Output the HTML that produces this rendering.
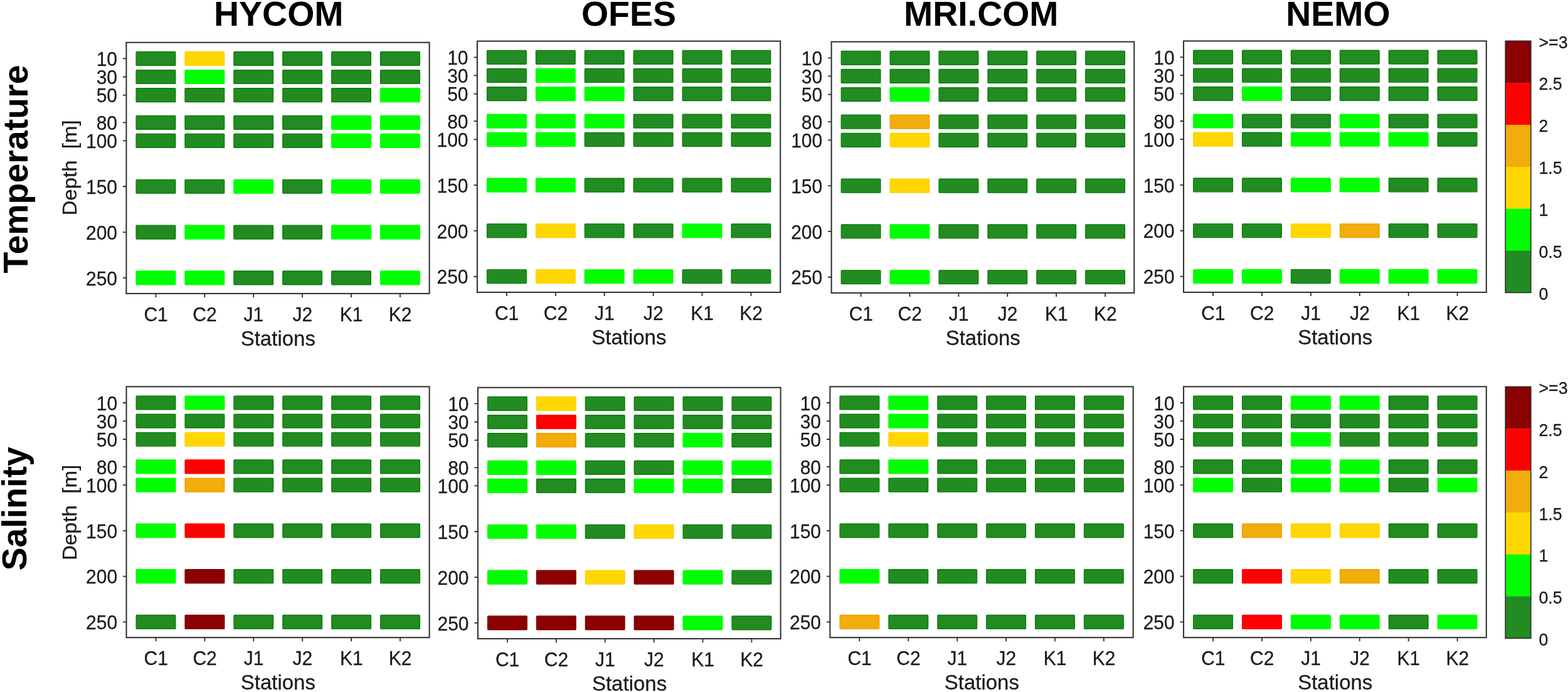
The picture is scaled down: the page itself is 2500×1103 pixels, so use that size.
<!DOCTYPE html>
<html lang="en"><head><meta charset="utf-8"><title>Model skill: Temperature and Salinity</title>
<style>html,body{margin:0;padding:0;background:#fff}body{width:2500px;height:1103px;overflow:hidden}svg{display:block}text{font-family:"Liberation Sans",Arial,Helvetica,sans-serif;fill:#1a1a1a}.t{font-size:30px}.l{font-size:33px}.b{font-size:55.5px;font-weight:bold;fill:#000}.c{font-size:26.8px}.t,.l,.c{stroke:#1a1a1a;stroke-width:0.25px}rect[class]{stroke-width:1.4px}.kd{fill:#228B22;stroke:#0A7D0A}.kl{fill:#00FF00;stroke:#00FF00}.ky{fill:#FFD700;stroke:#FFD000}.ko{fill:#F0AD0B;stroke:#F0A000}.kr{fill:#FF0000;stroke:#FF0000}.km{fill:#8B0000;stroke:#800000}</style></head><body>
<svg width="2500" height="1103" viewBox="0 0 2500 1103">
<rect x="0" y="0" width="2500" height="1103" fill="#fff"/>
<g id="p1">
<rect class="kd" x="217.1" y="82.5" width="62.6" height="21.8" rx="0.9"/>
<rect class="ky" x="295" y="82.5" width="62.6" height="21.8" rx="0.9"/>
<rect class="kd" x="372.9" y="82.5" width="62.6" height="21.8" rx="0.9"/>
<rect class="kd" x="450.8" y="82.5" width="62.6" height="21.8" rx="0.9"/>
<rect class="kd" x="528.7" y="82.5" width="62.6" height="21.8" rx="0.9"/>
<rect class="kd" x="606.6" y="82.5" width="62.6" height="21.8" rx="0.9"/>
<rect class="kd" x="217.1" y="111.62" width="62.6" height="21.8" rx="0.9"/>
<rect class="kl" x="295" y="111.62" width="62.6" height="21.8" rx="0.9"/>
<rect class="kd" x="372.9" y="111.62" width="62.6" height="21.8" rx="0.9"/>
<rect class="kd" x="450.8" y="111.62" width="62.6" height="21.8" rx="0.9"/>
<rect class="kd" x="528.7" y="111.62" width="62.6" height="21.8" rx="0.9"/>
<rect class="kd" x="606.6" y="111.62" width="62.6" height="21.8" rx="0.9"/>
<rect class="kd" x="217.1" y="140.74" width="62.6" height="21.8" rx="0.9"/>
<rect class="kd" x="295" y="140.74" width="62.6" height="21.8" rx="0.9"/>
<rect class="kd" x="372.9" y="140.74" width="62.6" height="21.8" rx="0.9"/>
<rect class="kd" x="450.8" y="140.74" width="62.6" height="21.8" rx="0.9"/>
<rect class="kd" x="528.7" y="140.74" width="62.6" height="21.8" rx="0.9"/>
<rect class="kl" x="606.6" y="140.74" width="62.6" height="21.8" rx="0.9"/>
<rect class="kd" x="217.1" y="184.42" width="62.6" height="21.8" rx="0.9"/>
<rect class="kd" x="295" y="184.42" width="62.6" height="21.8" rx="0.9"/>
<rect class="kd" x="372.9" y="184.42" width="62.6" height="21.8" rx="0.9"/>
<rect class="kd" x="450.8" y="184.42" width="62.6" height="21.8" rx="0.9"/>
<rect class="kl" x="528.7" y="184.42" width="62.6" height="21.8" rx="0.9"/>
<rect class="kl" x="606.6" y="184.42" width="62.6" height="21.8" rx="0.9"/>
<rect class="kd" x="217.1" y="213.54" width="62.6" height="21.8" rx="0.9"/>
<rect class="kd" x="295" y="213.54" width="62.6" height="21.8" rx="0.9"/>
<rect class="kd" x="372.9" y="213.54" width="62.6" height="21.8" rx="0.9"/>
<rect class="kd" x="450.8" y="213.54" width="62.6" height="21.8" rx="0.9"/>
<rect class="kl" x="528.7" y="213.54" width="62.6" height="21.8" rx="0.9"/>
<rect class="kl" x="606.6" y="213.54" width="62.6" height="21.8" rx="0.9"/>
<rect class="kd" x="217.1" y="286.34" width="62.6" height="21.8" rx="0.9"/>
<rect class="kd" x="295" y="286.34" width="62.6" height="21.8" rx="0.9"/>
<rect class="kl" x="372.9" y="286.34" width="62.6" height="21.8" rx="0.9"/>
<rect class="kd" x="450.8" y="286.34" width="62.6" height="21.8" rx="0.9"/>
<rect class="kl" x="528.7" y="286.34" width="62.6" height="21.8" rx="0.9"/>
<rect class="kl" x="606.6" y="286.34" width="62.6" height="21.8" rx="0.9"/>
<rect class="kd" x="217.1" y="359.14" width="62.6" height="21.8" rx="0.9"/>
<rect class="kl" x="295" y="359.14" width="62.6" height="21.8" rx="0.9"/>
<rect class="kd" x="372.9" y="359.14" width="62.6" height="21.8" rx="0.9"/>
<rect class="kd" x="450.8" y="359.14" width="62.6" height="21.8" rx="0.9"/>
<rect class="kl" x="528.7" y="359.14" width="62.6" height="21.8" rx="0.9"/>
<rect class="kl" x="606.6" y="359.14" width="62.6" height="21.8" rx="0.9"/>
<rect class="kl" x="217.1" y="431.94" width="62.6" height="21.8" rx="0.9"/>
<rect class="kl" x="295" y="431.94" width="62.6" height="21.8" rx="0.9"/>
<rect class="kd" x="372.9" y="431.94" width="62.6" height="21.8" rx="0.9"/>
<rect class="kd" x="450.8" y="431.94" width="62.6" height="21.8" rx="0.9"/>
<rect class="kd" x="528.7" y="431.94" width="62.6" height="21.8" rx="0.9"/>
<rect class="kl" x="606.6" y="431.94" width="62.6" height="21.8" rx="0.9"/>
<path d="M201.4 93.4h-5.5M201.4 122.52h-5.5M201.4 151.64h-5.5M201.4 195.32h-5.5M201.4 224.44h-5.5M201.4 297.24h-5.5M201.4 370.04h-5.5M201.4 442.84h-5.5M248.4 467.9v6M326.3 467.9v6M404.2 467.9v6M482.1 467.9v6M560 467.9v6M637.9 467.9v6" stroke="#2b2b2b" stroke-width="1.8" fill="none"/>
<rect x="201.4" y="67.7" width="483.2" height="400.2" fill="none" stroke="#2b2b2b" stroke-width="2"/>
<text class="t" transform="translate(187 105.1) scale(1 1.03)" text-anchor="end">10</text>
<text class="t" transform="translate(187 134.22) scale(1 1.03)" text-anchor="end">30</text>
<text class="t" transform="translate(187 163.34) scale(1 1.03)" text-anchor="end">50</text>
<text class="t" transform="translate(187 207.02) scale(1 1.03)" text-anchor="end">80</text>
<text class="t" transform="translate(187 236.14) scale(1 1.03)" text-anchor="end">100</text>
<text class="t" transform="translate(187 308.94) scale(1 1.03)" text-anchor="end">150</text>
<text class="t" transform="translate(187 381.74) scale(1 1.03)" text-anchor="end">200</text>
<text class="t" transform="translate(187 454.54) scale(1 1.03)" text-anchor="end">250</text>
<text class="t" transform="translate(248.6 511.5) scale(1 1.03)" text-anchor="middle">C1</text>
<text class="t" transform="translate(326.5 511.5) scale(1 1.03)" text-anchor="middle">C2</text>
<text class="t" transform="translate(404.4 511.5) scale(1 1.03)" text-anchor="middle">J1</text>
<text class="t" transform="translate(482.3 511.5) scale(1 1.03)" text-anchor="middle">J2</text>
<text class="t" transform="translate(560.2 511.5) scale(1 1.03)" text-anchor="middle">K1</text>
<text class="t" transform="translate(638.1 511.5) scale(1 1.03)" text-anchor="middle">K2</text>
<text class="l" transform="translate(443.3 550.5) scale(1 1.03)" text-anchor="middle">Stations</text>
</g>
<g id="p2">
<rect class="kd" x="776.6" y="80.4" width="62.6" height="21.8" rx="0.9"/>
<rect class="kd" x="854.5" y="80.4" width="62.6" height="21.8" rx="0.9"/>
<rect class="kd" x="932.4" y="80.4" width="62.6" height="21.8" rx="0.9"/>
<rect class="kd" x="1010.3" y="80.4" width="62.6" height="21.8" rx="0.9"/>
<rect class="kd" x="1088.2" y="80.4" width="62.6" height="21.8" rx="0.9"/>
<rect class="kd" x="1166.1" y="80.4" width="62.6" height="21.8" rx="0.9"/>
<rect class="kd" x="776.6" y="109.52" width="62.6" height="21.8" rx="0.9"/>
<rect class="kl" x="854.5" y="109.52" width="62.6" height="21.8" rx="0.9"/>
<rect class="kd" x="932.4" y="109.52" width="62.6" height="21.8" rx="0.9"/>
<rect class="kd" x="1010.3" y="109.52" width="62.6" height="21.8" rx="0.9"/>
<rect class="kd" x="1088.2" y="109.52" width="62.6" height="21.8" rx="0.9"/>
<rect class="kd" x="1166.1" y="109.52" width="62.6" height="21.8" rx="0.9"/>
<rect class="kd" x="776.6" y="138.64" width="62.6" height="21.8" rx="0.9"/>
<rect class="kl" x="854.5" y="138.64" width="62.6" height="21.8" rx="0.9"/>
<rect class="kl" x="932.4" y="138.64" width="62.6" height="21.8" rx="0.9"/>
<rect class="kd" x="1010.3" y="138.64" width="62.6" height="21.8" rx="0.9"/>
<rect class="kd" x="1088.2" y="138.64" width="62.6" height="21.8" rx="0.9"/>
<rect class="kd" x="1166.1" y="138.64" width="62.6" height="21.8" rx="0.9"/>
<rect class="kl" x="776.6" y="182.32" width="62.6" height="21.8" rx="0.9"/>
<rect class="kl" x="854.5" y="182.32" width="62.6" height="21.8" rx="0.9"/>
<rect class="kl" x="932.4" y="182.32" width="62.6" height="21.8" rx="0.9"/>
<rect class="kd" x="1010.3" y="182.32" width="62.6" height="21.8" rx="0.9"/>
<rect class="kd" x="1088.2" y="182.32" width="62.6" height="21.8" rx="0.9"/>
<rect class="kd" x="1166.1" y="182.32" width="62.6" height="21.8" rx="0.9"/>
<rect class="kl" x="776.6" y="211.44" width="62.6" height="21.8" rx="0.9"/>
<rect class="kl" x="854.5" y="211.44" width="62.6" height="21.8" rx="0.9"/>
<rect class="kd" x="932.4" y="211.44" width="62.6" height="21.8" rx="0.9"/>
<rect class="kd" x="1010.3" y="211.44" width="62.6" height="21.8" rx="0.9"/>
<rect class="kd" x="1088.2" y="211.44" width="62.6" height="21.8" rx="0.9"/>
<rect class="kd" x="1166.1" y="211.44" width="62.6" height="21.8" rx="0.9"/>
<rect class="kl" x="776.6" y="284.24" width="62.6" height="21.8" rx="0.9"/>
<rect class="kl" x="854.5" y="284.24" width="62.6" height="21.8" rx="0.9"/>
<rect class="kd" x="932.4" y="284.24" width="62.6" height="21.8" rx="0.9"/>
<rect class="kd" x="1010.3" y="284.24" width="62.6" height="21.8" rx="0.9"/>
<rect class="kd" x="1088.2" y="284.24" width="62.6" height="21.8" rx="0.9"/>
<rect class="kd" x="1166.1" y="284.24" width="62.6" height="21.8" rx="0.9"/>
<rect class="kd" x="776.6" y="357.04" width="62.6" height="21.8" rx="0.9"/>
<rect class="ky" x="854.5" y="357.04" width="62.6" height="21.8" rx="0.9"/>
<rect class="kd" x="932.4" y="357.04" width="62.6" height="21.8" rx="0.9"/>
<rect class="kd" x="1010.3" y="357.04" width="62.6" height="21.8" rx="0.9"/>
<rect class="kl" x="1088.2" y="357.04" width="62.6" height="21.8" rx="0.9"/>
<rect class="kd" x="1166.1" y="357.04" width="62.6" height="21.8" rx="0.9"/>
<rect class="kd" x="776.6" y="429.84" width="62.6" height="21.8" rx="0.9"/>
<rect class="ky" x="854.5" y="429.84" width="62.6" height="21.8" rx="0.9"/>
<rect class="kl" x="932.4" y="429.84" width="62.6" height="21.8" rx="0.9"/>
<rect class="kl" x="1010.3" y="429.84" width="62.6" height="21.8" rx="0.9"/>
<rect class="kd" x="1088.2" y="429.84" width="62.6" height="21.8" rx="0.9"/>
<rect class="kd" x="1166.1" y="429.84" width="62.6" height="21.8" rx="0.9"/>
<path d="M760.9 91.3h-5.5M760.9 120.42h-5.5M760.9 149.54h-5.5M760.9 193.22h-5.5M760.9 222.34h-5.5M760.9 295.14h-5.5M760.9 367.94h-5.5M760.9 440.74h-5.5M807.9 465.9v6M885.8 465.9v6M963.7 465.9v6M1041.6 465.9v6M1119.5 465.9v6M1197.4 465.9v6" stroke="#2b2b2b" stroke-width="1.8" fill="none"/>
<rect x="760.9" y="65.6" width="483.3" height="400.3" fill="none" stroke="#2b2b2b" stroke-width="2"/>
<text class="t" transform="translate(746.5 103) scale(1 1.03)" text-anchor="end">10</text>
<text class="t" transform="translate(746.5 132.12) scale(1 1.03)" text-anchor="end">30</text>
<text class="t" transform="translate(746.5 161.24) scale(1 1.03)" text-anchor="end">50</text>
<text class="t" transform="translate(746.5 204.92) scale(1 1.03)" text-anchor="end">80</text>
<text class="t" transform="translate(746.5 234.04) scale(1 1.03)" text-anchor="end">100</text>
<text class="t" transform="translate(746.5 306.84) scale(1 1.03)" text-anchor="end">150</text>
<text class="t" transform="translate(746.5 379.64) scale(1 1.03)" text-anchor="end">200</text>
<text class="t" transform="translate(746.5 452.44) scale(1 1.03)" text-anchor="end">250</text>
<text class="t" transform="translate(808.1 509.5) scale(1 1.03)" text-anchor="middle">C1</text>
<text class="t" transform="translate(886 509.5) scale(1 1.03)" text-anchor="middle">C2</text>
<text class="t" transform="translate(963.9 509.5) scale(1 1.03)" text-anchor="middle">J1</text>
<text class="t" transform="translate(1041.8 509.5) scale(1 1.03)" text-anchor="middle">J2</text>
<text class="t" transform="translate(1119.7 509.5) scale(1 1.03)" text-anchor="middle">K1</text>
<text class="t" transform="translate(1197.6 509.5) scale(1 1.03)" text-anchor="middle">K2</text>
<text class="l" transform="translate(1002.85 548.5) scale(1 1.03)" text-anchor="middle">Stations</text>
</g>
<g id="p3">
<rect class="kd" x="1341.3" y="81.4" width="62.6" height="21.8" rx="0.9"/>
<rect class="kd" x="1419.2" y="81.4" width="62.6" height="21.8" rx="0.9"/>
<rect class="kd" x="1497.1" y="81.4" width="62.6" height="21.8" rx="0.9"/>
<rect class="kd" x="1575" y="81.4" width="62.6" height="21.8" rx="0.9"/>
<rect class="kd" x="1652.9" y="81.4" width="62.6" height="21.8" rx="0.9"/>
<rect class="kd" x="1730.8" y="81.4" width="62.6" height="21.8" rx="0.9"/>
<rect class="kd" x="1341.3" y="110.52" width="62.6" height="21.8" rx="0.9"/>
<rect class="kd" x="1419.2" y="110.52" width="62.6" height="21.8" rx="0.9"/>
<rect class="kd" x="1497.1" y="110.52" width="62.6" height="21.8" rx="0.9"/>
<rect class="kd" x="1575" y="110.52" width="62.6" height="21.8" rx="0.9"/>
<rect class="kd" x="1652.9" y="110.52" width="62.6" height="21.8" rx="0.9"/>
<rect class="kd" x="1730.8" y="110.52" width="62.6" height="21.8" rx="0.9"/>
<rect class="kd" x="1341.3" y="139.64" width="62.6" height="21.8" rx="0.9"/>
<rect class="kl" x="1419.2" y="139.64" width="62.6" height="21.8" rx="0.9"/>
<rect class="kd" x="1497.1" y="139.64" width="62.6" height="21.8" rx="0.9"/>
<rect class="kd" x="1575" y="139.64" width="62.6" height="21.8" rx="0.9"/>
<rect class="kd" x="1652.9" y="139.64" width="62.6" height="21.8" rx="0.9"/>
<rect class="kd" x="1730.8" y="139.64" width="62.6" height="21.8" rx="0.9"/>
<rect class="kd" x="1341.3" y="183.32" width="62.6" height="21.8" rx="0.9"/>
<rect class="ko" x="1419.2" y="183.32" width="62.6" height="21.8" rx="0.9"/>
<rect class="kd" x="1497.1" y="183.32" width="62.6" height="21.8" rx="0.9"/>
<rect class="kd" x="1575" y="183.32" width="62.6" height="21.8" rx="0.9"/>
<rect class="kd" x="1652.9" y="183.32" width="62.6" height="21.8" rx="0.9"/>
<rect class="kd" x="1730.8" y="183.32" width="62.6" height="21.8" rx="0.9"/>
<rect class="kd" x="1341.3" y="212.44" width="62.6" height="21.8" rx="0.9"/>
<rect class="ky" x="1419.2" y="212.44" width="62.6" height="21.8" rx="0.9"/>
<rect class="kd" x="1497.1" y="212.44" width="62.6" height="21.8" rx="0.9"/>
<rect class="kd" x="1575" y="212.44" width="62.6" height="21.8" rx="0.9"/>
<rect class="kd" x="1652.9" y="212.44" width="62.6" height="21.8" rx="0.9"/>
<rect class="kd" x="1730.8" y="212.44" width="62.6" height="21.8" rx="0.9"/>
<rect class="kd" x="1341.3" y="285.24" width="62.6" height="21.8" rx="0.9"/>
<rect class="ky" x="1419.2" y="285.24" width="62.6" height="21.8" rx="0.9"/>
<rect class="kd" x="1497.1" y="285.24" width="62.6" height="21.8" rx="0.9"/>
<rect class="kd" x="1575" y="285.24" width="62.6" height="21.8" rx="0.9"/>
<rect class="kd" x="1652.9" y="285.24" width="62.6" height="21.8" rx="0.9"/>
<rect class="kd" x="1730.8" y="285.24" width="62.6" height="21.8" rx="0.9"/>
<rect class="kd" x="1341.3" y="358.04" width="62.6" height="21.8" rx="0.9"/>
<rect class="kl" x="1419.2" y="358.04" width="62.6" height="21.8" rx="0.9"/>
<rect class="kd" x="1497.1" y="358.04" width="62.6" height="21.8" rx="0.9"/>
<rect class="kd" x="1575" y="358.04" width="62.6" height="21.8" rx="0.9"/>
<rect class="kd" x="1652.9" y="358.04" width="62.6" height="21.8" rx="0.9"/>
<rect class="kd" x="1730.8" y="358.04" width="62.6" height="21.8" rx="0.9"/>
<rect class="kd" x="1341.3" y="430.84" width="62.6" height="21.8" rx="0.9"/>
<rect class="kl" x="1419.2" y="430.84" width="62.6" height="21.8" rx="0.9"/>
<rect class="kd" x="1497.1" y="430.84" width="62.6" height="21.8" rx="0.9"/>
<rect class="kd" x="1575" y="430.84" width="62.6" height="21.8" rx="0.9"/>
<rect class="kd" x="1652.9" y="430.84" width="62.6" height="21.8" rx="0.9"/>
<rect class="kd" x="1730.8" y="430.84" width="62.6" height="21.8" rx="0.9"/>
<path d="M1325.6 92.3h-5.5M1325.6 121.42h-5.5M1325.6 150.54h-5.5M1325.6 194.22h-5.5M1325.6 223.34h-5.5M1325.6 296.14h-5.5M1325.6 368.94h-5.5M1325.6 441.74h-5.5M1372.6 466.9v6M1450.5 466.9v6M1528.4 466.9v6M1606.3 466.9v6M1684.2 466.9v6M1762.1 466.9v6" stroke="#2b2b2b" stroke-width="1.8" fill="none"/>
<rect x="1325.6" y="66.6" width="482.7" height="400.3" fill="none" stroke="#2b2b2b" stroke-width="2"/>
<text class="t" transform="translate(1311.2 104) scale(1 1.03)" text-anchor="end">10</text>
<text class="t" transform="translate(1311.2 133.12) scale(1 1.03)" text-anchor="end">30</text>
<text class="t" transform="translate(1311.2 162.24) scale(1 1.03)" text-anchor="end">50</text>
<text class="t" transform="translate(1311.2 205.92) scale(1 1.03)" text-anchor="end">80</text>
<text class="t" transform="translate(1311.2 235.04) scale(1 1.03)" text-anchor="end">100</text>
<text class="t" transform="translate(1311.2 307.84) scale(1 1.03)" text-anchor="end">150</text>
<text class="t" transform="translate(1311.2 380.64) scale(1 1.03)" text-anchor="end">200</text>
<text class="t" transform="translate(1311.2 453.44) scale(1 1.03)" text-anchor="end">250</text>
<text class="t" transform="translate(1372.8 510.5) scale(1 1.03)" text-anchor="middle">C1</text>
<text class="t" transform="translate(1450.7 510.5) scale(1 1.03)" text-anchor="middle">C2</text>
<text class="t" transform="translate(1528.6 510.5) scale(1 1.03)" text-anchor="middle">J1</text>
<text class="t" transform="translate(1606.5 510.5) scale(1 1.03)" text-anchor="middle">J2</text>
<text class="t" transform="translate(1684.4 510.5) scale(1 1.03)" text-anchor="middle">K1</text>
<text class="t" transform="translate(1762.3 510.5) scale(1 1.03)" text-anchor="middle">K2</text>
<text class="l" transform="translate(1567.25 549.5) scale(1 1.03)" text-anchor="middle">Stations</text>
</g>
<g id="p4">
<rect class="kd" x="1902.8" y="80.2" width="62.6" height="21.8" rx="0.9"/>
<rect class="kd" x="1980.7" y="80.2" width="62.6" height="21.8" rx="0.9"/>
<rect class="kd" x="2058.6" y="80.2" width="62.6" height="21.8" rx="0.9"/>
<rect class="kd" x="2136.5" y="80.2" width="62.6" height="21.8" rx="0.9"/>
<rect class="kd" x="2214.4" y="80.2" width="62.6" height="21.8" rx="0.9"/>
<rect class="kd" x="2292.3" y="80.2" width="62.6" height="21.8" rx="0.9"/>
<rect class="kd" x="1902.8" y="109.32" width="62.6" height="21.8" rx="0.9"/>
<rect class="kd" x="1980.7" y="109.32" width="62.6" height="21.8" rx="0.9"/>
<rect class="kd" x="2058.6" y="109.32" width="62.6" height="21.8" rx="0.9"/>
<rect class="kd" x="2136.5" y="109.32" width="62.6" height="21.8" rx="0.9"/>
<rect class="kd" x="2214.4" y="109.32" width="62.6" height="21.8" rx="0.9"/>
<rect class="kd" x="2292.3" y="109.32" width="62.6" height="21.8" rx="0.9"/>
<rect class="kd" x="1902.8" y="138.44" width="62.6" height="21.8" rx="0.9"/>
<rect class="kl" x="1980.7" y="138.44" width="62.6" height="21.8" rx="0.9"/>
<rect class="kd" x="2058.6" y="138.44" width="62.6" height="21.8" rx="0.9"/>
<rect class="kd" x="2136.5" y="138.44" width="62.6" height="21.8" rx="0.9"/>
<rect class="kd" x="2214.4" y="138.44" width="62.6" height="21.8" rx="0.9"/>
<rect class="kd" x="2292.3" y="138.44" width="62.6" height="21.8" rx="0.9"/>
<rect class="kl" x="1902.8" y="182.12" width="62.6" height="21.8" rx="0.9"/>
<rect class="kd" x="1980.7" y="182.12" width="62.6" height="21.8" rx="0.9"/>
<rect class="kd" x="2058.6" y="182.12" width="62.6" height="21.8" rx="0.9"/>
<rect class="kl" x="2136.5" y="182.12" width="62.6" height="21.8" rx="0.9"/>
<rect class="kd" x="2214.4" y="182.12" width="62.6" height="21.8" rx="0.9"/>
<rect class="kd" x="2292.3" y="182.12" width="62.6" height="21.8" rx="0.9"/>
<rect class="ky" x="1902.8" y="211.24" width="62.6" height="21.8" rx="0.9"/>
<rect class="kd" x="1980.7" y="211.24" width="62.6" height="21.8" rx="0.9"/>
<rect class="kl" x="2058.6" y="211.24" width="62.6" height="21.8" rx="0.9"/>
<rect class="kl" x="2136.5" y="211.24" width="62.6" height="21.8" rx="0.9"/>
<rect class="kl" x="2214.4" y="211.24" width="62.6" height="21.8" rx="0.9"/>
<rect class="kd" x="2292.3" y="211.24" width="62.6" height="21.8" rx="0.9"/>
<rect class="kd" x="1902.8" y="284.04" width="62.6" height="21.8" rx="0.9"/>
<rect class="kd" x="1980.7" y="284.04" width="62.6" height="21.8" rx="0.9"/>
<rect class="kl" x="2058.6" y="284.04" width="62.6" height="21.8" rx="0.9"/>
<rect class="kl" x="2136.5" y="284.04" width="62.6" height="21.8" rx="0.9"/>
<rect class="kd" x="2214.4" y="284.04" width="62.6" height="21.8" rx="0.9"/>
<rect class="kd" x="2292.3" y="284.04" width="62.6" height="21.8" rx="0.9"/>
<rect class="kd" x="1902.8" y="356.84" width="62.6" height="21.8" rx="0.9"/>
<rect class="kd" x="1980.7" y="356.84" width="62.6" height="21.8" rx="0.9"/>
<rect class="ky" x="2058.6" y="356.84" width="62.6" height="21.8" rx="0.9"/>
<rect class="ko" x="2136.5" y="356.84" width="62.6" height="21.8" rx="0.9"/>
<rect class="kd" x="2214.4" y="356.84" width="62.6" height="21.8" rx="0.9"/>
<rect class="kd" x="2292.3" y="356.84" width="62.6" height="21.8" rx="0.9"/>
<rect class="kl" x="1902.8" y="429.64" width="62.6" height="21.8" rx="0.9"/>
<rect class="kl" x="1980.7" y="429.64" width="62.6" height="21.8" rx="0.9"/>
<rect class="kd" x="2058.6" y="429.64" width="62.6" height="21.8" rx="0.9"/>
<rect class="kl" x="2136.5" y="429.64" width="62.6" height="21.8" rx="0.9"/>
<rect class="kl" x="2214.4" y="429.64" width="62.6" height="21.8" rx="0.9"/>
<rect class="kl" x="2292.3" y="429.64" width="62.6" height="21.8" rx="0.9"/>
<path d="M1887.1 91.1h-5.5M1887.1 120.22h-5.5M1887.1 149.34h-5.5M1887.1 193.02h-5.5M1887.1 222.14h-5.5M1887.1 294.94h-5.5M1887.1 367.74h-5.5M1887.1 440.54h-5.5M1934.1 465.9v6M2012 465.9v6M2089.9 465.9v6M2167.8 465.9v6M2245.7 465.9v6M2323.6 465.9v6" stroke="#2b2b2b" stroke-width="1.8" fill="none"/>
<rect x="1887.1" y="65.4" width="482.7" height="400.5" fill="none" stroke="#2b2b2b" stroke-width="2"/>
<text class="t" transform="translate(1872.7 102.8) scale(1 1.03)" text-anchor="end">10</text>
<text class="t" transform="translate(1872.7 131.92) scale(1 1.03)" text-anchor="end">30</text>
<text class="t" transform="translate(1872.7 161.04) scale(1 1.03)" text-anchor="end">50</text>
<text class="t" transform="translate(1872.7 204.72) scale(1 1.03)" text-anchor="end">80</text>
<text class="t" transform="translate(1872.7 233.84) scale(1 1.03)" text-anchor="end">100</text>
<text class="t" transform="translate(1872.7 306.64) scale(1 1.03)" text-anchor="end">150</text>
<text class="t" transform="translate(1872.7 379.44) scale(1 1.03)" text-anchor="end">200</text>
<text class="t" transform="translate(1872.7 452.24) scale(1 1.03)" text-anchor="end">250</text>
<text class="t" transform="translate(1934.3 509.5) scale(1 1.03)" text-anchor="middle">C1</text>
<text class="t" transform="translate(2012.2 509.5) scale(1 1.03)" text-anchor="middle">C2</text>
<text class="t" transform="translate(2090.1 509.5) scale(1 1.03)" text-anchor="middle">J1</text>
<text class="t" transform="translate(2168 509.5) scale(1 1.03)" text-anchor="middle">J2</text>
<text class="t" transform="translate(2245.9 509.5) scale(1 1.03)" text-anchor="middle">K1</text>
<text class="t" transform="translate(2323.8 509.5) scale(1 1.03)" text-anchor="middle">K2</text>
<text class="l" transform="translate(2128.75 548.5) scale(1 1.03)" text-anchor="middle">Stations</text>
</g>
<g id="p5">
<rect class="kd" x="217.2" y="631.1" width="62.6" height="21.8" rx="0.9"/>
<rect class="kl" x="295.1" y="631.1" width="62.6" height="21.8" rx="0.9"/>
<rect class="kd" x="373" y="631.1" width="62.6" height="21.8" rx="0.9"/>
<rect class="kd" x="450.9" y="631.1" width="62.6" height="21.8" rx="0.9"/>
<rect class="kd" x="528.8" y="631.1" width="62.6" height="21.8" rx="0.9"/>
<rect class="kd" x="606.7" y="631.1" width="62.6" height="21.8" rx="0.9"/>
<rect class="kd" x="217.2" y="660.22" width="62.6" height="21.8" rx="0.9"/>
<rect class="kd" x="295.1" y="660.22" width="62.6" height="21.8" rx="0.9"/>
<rect class="kd" x="373" y="660.22" width="62.6" height="21.8" rx="0.9"/>
<rect class="kd" x="450.9" y="660.22" width="62.6" height="21.8" rx="0.9"/>
<rect class="kd" x="528.8" y="660.22" width="62.6" height="21.8" rx="0.9"/>
<rect class="kd" x="606.7" y="660.22" width="62.6" height="21.8" rx="0.9"/>
<rect class="kd" x="217.2" y="689.34" width="62.6" height="21.8" rx="0.9"/>
<rect class="ky" x="295.1" y="689.34" width="62.6" height="21.8" rx="0.9"/>
<rect class="kd" x="373" y="689.34" width="62.6" height="21.8" rx="0.9"/>
<rect class="kd" x="450.9" y="689.34" width="62.6" height="21.8" rx="0.9"/>
<rect class="kd" x="528.8" y="689.34" width="62.6" height="21.8" rx="0.9"/>
<rect class="kd" x="606.7" y="689.34" width="62.6" height="21.8" rx="0.9"/>
<rect class="kl" x="217.2" y="733.02" width="62.6" height="21.8" rx="0.9"/>
<rect class="kr" x="295.1" y="733.02" width="62.6" height="21.8" rx="0.9"/>
<rect class="kd" x="373" y="733.02" width="62.6" height="21.8" rx="0.9"/>
<rect class="kd" x="450.9" y="733.02" width="62.6" height="21.8" rx="0.9"/>
<rect class="kd" x="528.8" y="733.02" width="62.6" height="21.8" rx="0.9"/>
<rect class="kd" x="606.7" y="733.02" width="62.6" height="21.8" rx="0.9"/>
<rect class="kl" x="217.2" y="762.14" width="62.6" height="21.8" rx="0.9"/>
<rect class="ko" x="295.1" y="762.14" width="62.6" height="21.8" rx="0.9"/>
<rect class="kd" x="373" y="762.14" width="62.6" height="21.8" rx="0.9"/>
<rect class="kd" x="450.9" y="762.14" width="62.6" height="21.8" rx="0.9"/>
<rect class="kd" x="528.8" y="762.14" width="62.6" height="21.8" rx="0.9"/>
<rect class="kd" x="606.7" y="762.14" width="62.6" height="21.8" rx="0.9"/>
<rect class="kl" x="217.2" y="834.94" width="62.6" height="21.8" rx="0.9"/>
<rect class="kr" x="295.1" y="834.94" width="62.6" height="21.8" rx="0.9"/>
<rect class="kd" x="373" y="834.94" width="62.6" height="21.8" rx="0.9"/>
<rect class="kd" x="450.9" y="834.94" width="62.6" height="21.8" rx="0.9"/>
<rect class="kd" x="528.8" y="834.94" width="62.6" height="21.8" rx="0.9"/>
<rect class="kd" x="606.7" y="834.94" width="62.6" height="21.8" rx="0.9"/>
<rect class="kl" x="217.2" y="907.74" width="62.6" height="21.8" rx="0.9"/>
<rect class="km" x="295.1" y="907.74" width="62.6" height="21.8" rx="0.9"/>
<rect class="kd" x="373" y="907.74" width="62.6" height="21.8" rx="0.9"/>
<rect class="kd" x="450.9" y="907.74" width="62.6" height="21.8" rx="0.9"/>
<rect class="kd" x="528.8" y="907.74" width="62.6" height="21.8" rx="0.9"/>
<rect class="kd" x="606.7" y="907.74" width="62.6" height="21.8" rx="0.9"/>
<rect class="kd" x="217.2" y="980.54" width="62.6" height="21.8" rx="0.9"/>
<rect class="km" x="295.1" y="980.54" width="62.6" height="21.8" rx="0.9"/>
<rect class="kd" x="373" y="980.54" width="62.6" height="21.8" rx="0.9"/>
<rect class="kd" x="450.9" y="980.54" width="62.6" height="21.8" rx="0.9"/>
<rect class="kd" x="528.8" y="980.54" width="62.6" height="21.8" rx="0.9"/>
<rect class="kd" x="606.7" y="980.54" width="62.6" height="21.8" rx="0.9"/>
<path d="M201.5 642h-5.5M201.5 671.12h-5.5M201.5 700.24h-5.5M201.5 743.92h-5.5M201.5 773.04h-5.5M201.5 845.84h-5.5M201.5 918.64h-5.5M201.5 991.44h-5.5M248.5 1016.2v6M326.4 1016.2v6M404.3 1016.2v6M482.2 1016.2v6M560.1 1016.2v6M638 1016.2v6" stroke="#2b2b2b" stroke-width="1.8" fill="none"/>
<rect x="201.5" y="616.3" width="483.1" height="399.9" fill="none" stroke="#2b2b2b" stroke-width="2"/>
<text class="t" transform="translate(187.1 653.7) scale(1 1.03)" text-anchor="end">10</text>
<text class="t" transform="translate(187.1 682.82) scale(1 1.03)" text-anchor="end">30</text>
<text class="t" transform="translate(187.1 711.94) scale(1 1.03)" text-anchor="end">50</text>
<text class="t" transform="translate(187.1 755.62) scale(1 1.03)" text-anchor="end">80</text>
<text class="t" transform="translate(187.1 784.74) scale(1 1.03)" text-anchor="end">100</text>
<text class="t" transform="translate(187.1 857.54) scale(1 1.03)" text-anchor="end">150</text>
<text class="t" transform="translate(187.1 930.34) scale(1 1.03)" text-anchor="end">200</text>
<text class="t" transform="translate(187.1 1003.14) scale(1 1.03)" text-anchor="end">250</text>
<text class="t" transform="translate(248.7 1059.8) scale(1 1.03)" text-anchor="middle">C1</text>
<text class="t" transform="translate(326.6 1059.8) scale(1 1.03)" text-anchor="middle">C2</text>
<text class="t" transform="translate(404.5 1059.8) scale(1 1.03)" text-anchor="middle">J1</text>
<text class="t" transform="translate(482.4 1059.8) scale(1 1.03)" text-anchor="middle">J2</text>
<text class="t" transform="translate(560.3 1059.8) scale(1 1.03)" text-anchor="middle">K1</text>
<text class="t" transform="translate(638.2 1059.8) scale(1 1.03)" text-anchor="middle">K2</text>
<text class="l" transform="translate(443.35 1098.8) scale(1 1.03)" text-anchor="middle">Stations</text>
</g>
<g id="p6">
<rect class="kd" x="777.6" y="632.5" width="62.6" height="21.8" rx="0.9"/>
<rect class="ky" x="855.5" y="632.5" width="62.6" height="21.8" rx="0.9"/>
<rect class="kd" x="933.4" y="632.5" width="62.6" height="21.8" rx="0.9"/>
<rect class="kd" x="1011.3" y="632.5" width="62.6" height="21.8" rx="0.9"/>
<rect class="kd" x="1089.2" y="632.5" width="62.6" height="21.8" rx="0.9"/>
<rect class="kd" x="1167.1" y="632.5" width="62.6" height="21.8" rx="0.9"/>
<rect class="kd" x="777.6" y="661.62" width="62.6" height="21.8" rx="0.9"/>
<rect class="kr" x="855.5" y="661.62" width="62.6" height="21.8" rx="0.9"/>
<rect class="kd" x="933.4" y="661.62" width="62.6" height="21.8" rx="0.9"/>
<rect class="kd" x="1011.3" y="661.62" width="62.6" height="21.8" rx="0.9"/>
<rect class="kd" x="1089.2" y="661.62" width="62.6" height="21.8" rx="0.9"/>
<rect class="kd" x="1167.1" y="661.62" width="62.6" height="21.8" rx="0.9"/>
<rect class="kd" x="777.6" y="690.74" width="62.6" height="21.8" rx="0.9"/>
<rect class="ko" x="855.5" y="690.74" width="62.6" height="21.8" rx="0.9"/>
<rect class="kd" x="933.4" y="690.74" width="62.6" height="21.8" rx="0.9"/>
<rect class="kd" x="1011.3" y="690.74" width="62.6" height="21.8" rx="0.9"/>
<rect class="kl" x="1089.2" y="690.74" width="62.6" height="21.8" rx="0.9"/>
<rect class="kd" x="1167.1" y="690.74" width="62.6" height="21.8" rx="0.9"/>
<rect class="kl" x="777.6" y="734.42" width="62.6" height="21.8" rx="0.9"/>
<rect class="kl" x="855.5" y="734.42" width="62.6" height="21.8" rx="0.9"/>
<rect class="kd" x="933.4" y="734.42" width="62.6" height="21.8" rx="0.9"/>
<rect class="kd" x="1011.3" y="734.42" width="62.6" height="21.8" rx="0.9"/>
<rect class="kl" x="1089.2" y="734.42" width="62.6" height="21.8" rx="0.9"/>
<rect class="kl" x="1167.1" y="734.42" width="62.6" height="21.8" rx="0.9"/>
<rect class="kl" x="777.6" y="763.54" width="62.6" height="21.8" rx="0.9"/>
<rect class="kd" x="855.5" y="763.54" width="62.6" height="21.8" rx="0.9"/>
<rect class="kd" x="933.4" y="763.54" width="62.6" height="21.8" rx="0.9"/>
<rect class="kl" x="1011.3" y="763.54" width="62.6" height="21.8" rx="0.9"/>
<rect class="kl" x="1089.2" y="763.54" width="62.6" height="21.8" rx="0.9"/>
<rect class="kd" x="1167.1" y="763.54" width="62.6" height="21.8" rx="0.9"/>
<rect class="kl" x="777.6" y="836.34" width="62.6" height="21.8" rx="0.9"/>
<rect class="kl" x="855.5" y="836.34" width="62.6" height="21.8" rx="0.9"/>
<rect class="kd" x="933.4" y="836.34" width="62.6" height="21.8" rx="0.9"/>
<rect class="ky" x="1011.3" y="836.34" width="62.6" height="21.8" rx="0.9"/>
<rect class="kd" x="1089.2" y="836.34" width="62.6" height="21.8" rx="0.9"/>
<rect class="kd" x="1167.1" y="836.34" width="62.6" height="21.8" rx="0.9"/>
<rect class="kl" x="777.6" y="909.14" width="62.6" height="21.8" rx="0.9"/>
<rect class="km" x="855.5" y="909.14" width="62.6" height="21.8" rx="0.9"/>
<rect class="ky" x="933.4" y="909.14" width="62.6" height="21.8" rx="0.9"/>
<rect class="km" x="1011.3" y="909.14" width="62.6" height="21.8" rx="0.9"/>
<rect class="kl" x="1089.2" y="909.14" width="62.6" height="21.8" rx="0.9"/>
<rect class="kd" x="1167.1" y="909.14" width="62.6" height="21.8" rx="0.9"/>
<rect class="km" x="777.6" y="981.94" width="62.6" height="21.8" rx="0.9"/>
<rect class="km" x="855.5" y="981.94" width="62.6" height="21.8" rx="0.9"/>
<rect class="km" x="933.4" y="981.94" width="62.6" height="21.8" rx="0.9"/>
<rect class="km" x="1011.3" y="981.94" width="62.6" height="21.8" rx="0.9"/>
<rect class="kl" x="1089.2" y="981.94" width="62.6" height="21.8" rx="0.9"/>
<rect class="kd" x="1167.1" y="981.94" width="62.6" height="21.8" rx="0.9"/>
<path d="M761.9 643.4h-5.5M761.9 672.52h-5.5M761.9 701.64h-5.5M761.9 745.32h-5.5M761.9 774.44h-5.5M761.9 847.24h-5.5M761.9 920.04h-5.5M761.9 992.84h-5.5M808.9 1018.1v6M886.8 1018.1v6M964.7 1018.1v6M1042.6 1018.1v6M1120.5 1018.1v6M1198.4 1018.1v6" stroke="#2b2b2b" stroke-width="1.8" fill="none"/>
<rect x="761.9" y="617.7" width="482.7" height="400.4" fill="none" stroke="#2b2b2b" stroke-width="2"/>
<text class="t" transform="translate(747.5 655.1) scale(1 1.03)" text-anchor="end">10</text>
<text class="t" transform="translate(747.5 684.22) scale(1 1.03)" text-anchor="end">30</text>
<text class="t" transform="translate(747.5 713.34) scale(1 1.03)" text-anchor="end">50</text>
<text class="t" transform="translate(747.5 757.02) scale(1 1.03)" text-anchor="end">80</text>
<text class="t" transform="translate(747.5 786.14) scale(1 1.03)" text-anchor="end">100</text>
<text class="t" transform="translate(747.5 858.94) scale(1 1.03)" text-anchor="end">150</text>
<text class="t" transform="translate(747.5 931.74) scale(1 1.03)" text-anchor="end">200</text>
<text class="t" transform="translate(747.5 1004.54) scale(1 1.03)" text-anchor="end">250</text>
<text class="t" transform="translate(809.1 1061.7) scale(1 1.03)" text-anchor="middle">C1</text>
<text class="t" transform="translate(887 1061.7) scale(1 1.03)" text-anchor="middle">C2</text>
<text class="t" transform="translate(964.9 1061.7) scale(1 1.03)" text-anchor="middle">J1</text>
<text class="t" transform="translate(1042.8 1061.7) scale(1 1.03)" text-anchor="middle">J2</text>
<text class="t" transform="translate(1120.7 1061.7) scale(1 1.03)" text-anchor="middle">K1</text>
<text class="t" transform="translate(1198.6 1061.7) scale(1 1.03)" text-anchor="middle">K2</text>
<text class="l" transform="translate(1003.55 1100.7) scale(1 1.03)" text-anchor="middle">Stations</text>
</g>
<g id="p7">
<rect class="kd" x="1339.1" y="631.1" width="62.6" height="21.8" rx="0.9"/>
<rect class="kl" x="1417" y="631.1" width="62.6" height="21.8" rx="0.9"/>
<rect class="kd" x="1494.9" y="631.1" width="62.6" height="21.8" rx="0.9"/>
<rect class="kd" x="1572.8" y="631.1" width="62.6" height="21.8" rx="0.9"/>
<rect class="kd" x="1650.7" y="631.1" width="62.6" height="21.8" rx="0.9"/>
<rect class="kd" x="1728.6" y="631.1" width="62.6" height="21.8" rx="0.9"/>
<rect class="kd" x="1339.1" y="660.22" width="62.6" height="21.8" rx="0.9"/>
<rect class="kl" x="1417" y="660.22" width="62.6" height="21.8" rx="0.9"/>
<rect class="kd" x="1494.9" y="660.22" width="62.6" height="21.8" rx="0.9"/>
<rect class="kd" x="1572.8" y="660.22" width="62.6" height="21.8" rx="0.9"/>
<rect class="kd" x="1650.7" y="660.22" width="62.6" height="21.8" rx="0.9"/>
<rect class="kd" x="1728.6" y="660.22" width="62.6" height="21.8" rx="0.9"/>
<rect class="kd" x="1339.1" y="689.34" width="62.6" height="21.8" rx="0.9"/>
<rect class="ky" x="1417" y="689.34" width="62.6" height="21.8" rx="0.9"/>
<rect class="kd" x="1494.9" y="689.34" width="62.6" height="21.8" rx="0.9"/>
<rect class="kd" x="1572.8" y="689.34" width="62.6" height="21.8" rx="0.9"/>
<rect class="kd" x="1650.7" y="689.34" width="62.6" height="21.8" rx="0.9"/>
<rect class="kd" x="1728.6" y="689.34" width="62.6" height="21.8" rx="0.9"/>
<rect class="kd" x="1339.1" y="733.02" width="62.6" height="21.8" rx="0.9"/>
<rect class="kl" x="1417" y="733.02" width="62.6" height="21.8" rx="0.9"/>
<rect class="kd" x="1494.9" y="733.02" width="62.6" height="21.8" rx="0.9"/>
<rect class="kd" x="1572.8" y="733.02" width="62.6" height="21.8" rx="0.9"/>
<rect class="kd" x="1650.7" y="733.02" width="62.6" height="21.8" rx="0.9"/>
<rect class="kd" x="1728.6" y="733.02" width="62.6" height="21.8" rx="0.9"/>
<rect class="kd" x="1339.1" y="762.14" width="62.6" height="21.8" rx="0.9"/>
<rect class="kd" x="1417" y="762.14" width="62.6" height="21.8" rx="0.9"/>
<rect class="kd" x="1494.9" y="762.14" width="62.6" height="21.8" rx="0.9"/>
<rect class="kd" x="1572.8" y="762.14" width="62.6" height="21.8" rx="0.9"/>
<rect class="kd" x="1650.7" y="762.14" width="62.6" height="21.8" rx="0.9"/>
<rect class="kd" x="1728.6" y="762.14" width="62.6" height="21.8" rx="0.9"/>
<rect class="kd" x="1339.1" y="834.94" width="62.6" height="21.8" rx="0.9"/>
<rect class="kd" x="1417" y="834.94" width="62.6" height="21.8" rx="0.9"/>
<rect class="kd" x="1494.9" y="834.94" width="62.6" height="21.8" rx="0.9"/>
<rect class="kd" x="1572.8" y="834.94" width="62.6" height="21.8" rx="0.9"/>
<rect class="kd" x="1650.7" y="834.94" width="62.6" height="21.8" rx="0.9"/>
<rect class="kd" x="1728.6" y="834.94" width="62.6" height="21.8" rx="0.9"/>
<rect class="kl" x="1339.1" y="907.74" width="62.6" height="21.8" rx="0.9"/>
<rect class="kd" x="1417" y="907.74" width="62.6" height="21.8" rx="0.9"/>
<rect class="kd" x="1494.9" y="907.74" width="62.6" height="21.8" rx="0.9"/>
<rect class="kd" x="1572.8" y="907.74" width="62.6" height="21.8" rx="0.9"/>
<rect class="kd" x="1650.7" y="907.74" width="62.6" height="21.8" rx="0.9"/>
<rect class="kd" x="1728.6" y="907.74" width="62.6" height="21.8" rx="0.9"/>
<rect class="ko" x="1339.1" y="980.54" width="62.6" height="21.8" rx="0.9"/>
<rect class="kd" x="1417" y="980.54" width="62.6" height="21.8" rx="0.9"/>
<rect class="kd" x="1494.9" y="980.54" width="62.6" height="21.8" rx="0.9"/>
<rect class="kd" x="1572.8" y="980.54" width="62.6" height="21.8" rx="0.9"/>
<rect class="kd" x="1650.7" y="980.54" width="62.6" height="21.8" rx="0.9"/>
<rect class="kd" x="1728.6" y="980.54" width="62.6" height="21.8" rx="0.9"/>
<path d="M1323.4 642h-5.5M1323.4 671.12h-5.5M1323.4 700.24h-5.5M1323.4 743.92h-5.5M1323.4 773.04h-5.5M1323.4 845.84h-5.5M1323.4 918.64h-5.5M1323.4 991.44h-5.5M1370.4 1016.2v6M1448.3 1016.2v6M1526.2 1016.2v6M1604.1 1016.2v6M1682 1016.2v6M1759.9 1016.2v6" stroke="#2b2b2b" stroke-width="1.8" fill="none"/>
<rect x="1323.4" y="616.3" width="483.3" height="399.9" fill="none" stroke="#2b2b2b" stroke-width="2"/>
<text class="t" transform="translate(1309 653.7) scale(1 1.03)" text-anchor="end">10</text>
<text class="t" transform="translate(1309 682.82) scale(1 1.03)" text-anchor="end">30</text>
<text class="t" transform="translate(1309 711.94) scale(1 1.03)" text-anchor="end">50</text>
<text class="t" transform="translate(1309 755.62) scale(1 1.03)" text-anchor="end">80</text>
<text class="t" transform="translate(1309 784.74) scale(1 1.03)" text-anchor="end">100</text>
<text class="t" transform="translate(1309 857.54) scale(1 1.03)" text-anchor="end">150</text>
<text class="t" transform="translate(1309 930.34) scale(1 1.03)" text-anchor="end">200</text>
<text class="t" transform="translate(1309 1003.14) scale(1 1.03)" text-anchor="end">250</text>
<text class="t" transform="translate(1370.6 1059.8) scale(1 1.03)" text-anchor="middle">C1</text>
<text class="t" transform="translate(1448.5 1059.8) scale(1 1.03)" text-anchor="middle">C2</text>
<text class="t" transform="translate(1526.4 1059.8) scale(1 1.03)" text-anchor="middle">J1</text>
<text class="t" transform="translate(1604.3 1059.8) scale(1 1.03)" text-anchor="middle">J2</text>
<text class="t" transform="translate(1682.2 1059.8) scale(1 1.03)" text-anchor="middle">K1</text>
<text class="t" transform="translate(1760.1 1059.8) scale(1 1.03)" text-anchor="middle">K2</text>
<text class="l" transform="translate(1565.35 1098.8) scale(1 1.03)" text-anchor="middle">Stations</text>
</g>
<g id="p8">
<rect class="kd" x="1902.8" y="631.1" width="62.6" height="21.8" rx="0.9"/>
<rect class="kd" x="1980.7" y="631.1" width="62.6" height="21.8" rx="0.9"/>
<rect class="kl" x="2058.6" y="631.1" width="62.6" height="21.8" rx="0.9"/>
<rect class="kl" x="2136.5" y="631.1" width="62.6" height="21.8" rx="0.9"/>
<rect class="kd" x="2214.4" y="631.1" width="62.6" height="21.8" rx="0.9"/>
<rect class="kd" x="2292.3" y="631.1" width="62.6" height="21.8" rx="0.9"/>
<rect class="kd" x="1902.8" y="660.22" width="62.6" height="21.8" rx="0.9"/>
<rect class="kd" x="1980.7" y="660.22" width="62.6" height="21.8" rx="0.9"/>
<rect class="kd" x="2058.6" y="660.22" width="62.6" height="21.8" rx="0.9"/>
<rect class="kd" x="2136.5" y="660.22" width="62.6" height="21.8" rx="0.9"/>
<rect class="kd" x="2214.4" y="660.22" width="62.6" height="21.8" rx="0.9"/>
<rect class="kd" x="2292.3" y="660.22" width="62.6" height="21.8" rx="0.9"/>
<rect class="kd" x="1902.8" y="689.34" width="62.6" height="21.8" rx="0.9"/>
<rect class="kd" x="1980.7" y="689.34" width="62.6" height="21.8" rx="0.9"/>
<rect class="kl" x="2058.6" y="689.34" width="62.6" height="21.8" rx="0.9"/>
<rect class="kd" x="2136.5" y="689.34" width="62.6" height="21.8" rx="0.9"/>
<rect class="kd" x="2214.4" y="689.34" width="62.6" height="21.8" rx="0.9"/>
<rect class="kd" x="2292.3" y="689.34" width="62.6" height="21.8" rx="0.9"/>
<rect class="kd" x="1902.8" y="733.02" width="62.6" height="21.8" rx="0.9"/>
<rect class="kd" x="1980.7" y="733.02" width="62.6" height="21.8" rx="0.9"/>
<rect class="kl" x="2058.6" y="733.02" width="62.6" height="21.8" rx="0.9"/>
<rect class="kl" x="2136.5" y="733.02" width="62.6" height="21.8" rx="0.9"/>
<rect class="kd" x="2214.4" y="733.02" width="62.6" height="21.8" rx="0.9"/>
<rect class="kd" x="2292.3" y="733.02" width="62.6" height="21.8" rx="0.9"/>
<rect class="kl" x="1902.8" y="762.14" width="62.6" height="21.8" rx="0.9"/>
<rect class="kd" x="1980.7" y="762.14" width="62.6" height="21.8" rx="0.9"/>
<rect class="kl" x="2058.6" y="762.14" width="62.6" height="21.8" rx="0.9"/>
<rect class="kl" x="2136.5" y="762.14" width="62.6" height="21.8" rx="0.9"/>
<rect class="kd" x="2214.4" y="762.14" width="62.6" height="21.8" rx="0.9"/>
<rect class="kl" x="2292.3" y="762.14" width="62.6" height="21.8" rx="0.9"/>
<rect class="kd" x="1902.8" y="834.94" width="62.6" height="21.8" rx="0.9"/>
<rect class="ko" x="1980.7" y="834.94" width="62.6" height="21.8" rx="0.9"/>
<rect class="ky" x="2058.6" y="834.94" width="62.6" height="21.8" rx="0.9"/>
<rect class="ky" x="2136.5" y="834.94" width="62.6" height="21.8" rx="0.9"/>
<rect class="kd" x="2214.4" y="834.94" width="62.6" height="21.8" rx="0.9"/>
<rect class="kd" x="2292.3" y="834.94" width="62.6" height="21.8" rx="0.9"/>
<rect class="kd" x="1902.8" y="907.74" width="62.6" height="21.8" rx="0.9"/>
<rect class="kr" x="1980.7" y="907.74" width="62.6" height="21.8" rx="0.9"/>
<rect class="ky" x="2058.6" y="907.74" width="62.6" height="21.8" rx="0.9"/>
<rect class="ko" x="2136.5" y="907.74" width="62.6" height="21.8" rx="0.9"/>
<rect class="kd" x="2214.4" y="907.74" width="62.6" height="21.8" rx="0.9"/>
<rect class="kd" x="2292.3" y="907.74" width="62.6" height="21.8" rx="0.9"/>
<rect class="kd" x="1902.8" y="980.54" width="62.6" height="21.8" rx="0.9"/>
<rect class="kr" x="1980.7" y="980.54" width="62.6" height="21.8" rx="0.9"/>
<rect class="kl" x="2058.6" y="980.54" width="62.6" height="21.8" rx="0.9"/>
<rect class="kl" x="2136.5" y="980.54" width="62.6" height="21.8" rx="0.9"/>
<rect class="kd" x="2214.4" y="980.54" width="62.6" height="21.8" rx="0.9"/>
<rect class="kl" x="2292.3" y="980.54" width="62.6" height="21.8" rx="0.9"/>
<path d="M1887.1 642h-5.5M1887.1 671.12h-5.5M1887.1 700.24h-5.5M1887.1 743.92h-5.5M1887.1 773.04h-5.5M1887.1 845.84h-5.5M1887.1 918.64h-5.5M1887.1 991.44h-5.5M1934.1 1016.2v6M2012 1016.2v6M2089.9 1016.2v6M2167.8 1016.2v6M2245.7 1016.2v6M2323.6 1016.2v6" stroke="#2b2b2b" stroke-width="1.8" fill="none"/>
<rect x="1887.1" y="616.3" width="482.7" height="399.9" fill="none" stroke="#2b2b2b" stroke-width="2"/>
<text class="t" transform="translate(1872.7 653.7) scale(1 1.03)" text-anchor="end">10</text>
<text class="t" transform="translate(1872.7 682.82) scale(1 1.03)" text-anchor="end">30</text>
<text class="t" transform="translate(1872.7 711.94) scale(1 1.03)" text-anchor="end">50</text>
<text class="t" transform="translate(1872.7 755.62) scale(1 1.03)" text-anchor="end">80</text>
<text class="t" transform="translate(1872.7 784.74) scale(1 1.03)" text-anchor="end">100</text>
<text class="t" transform="translate(1872.7 857.54) scale(1 1.03)" text-anchor="end">150</text>
<text class="t" transform="translate(1872.7 930.34) scale(1 1.03)" text-anchor="end">200</text>
<text class="t" transform="translate(1872.7 1003.14) scale(1 1.03)" text-anchor="end">250</text>
<text class="t" transform="translate(1934.3 1059.8) scale(1 1.03)" text-anchor="middle">C1</text>
<text class="t" transform="translate(2012.2 1059.8) scale(1 1.03)" text-anchor="middle">C2</text>
<text class="t" transform="translate(2090.1 1059.8) scale(1 1.03)" text-anchor="middle">J1</text>
<text class="t" transform="translate(2168 1059.8) scale(1 1.03)" text-anchor="middle">J2</text>
<text class="t" transform="translate(2245.9 1059.8) scale(1 1.03)" text-anchor="middle">K1</text>
<text class="t" transform="translate(2323.8 1059.8) scale(1 1.03)" text-anchor="middle">K2</text>
<text class="l" transform="translate(2128.75 1098.8) scale(1 1.03)" text-anchor="middle">Stations</text>
</g>
<text class="b" transform="translate(444.3 40.9) scale(1 1.01)" text-anchor="middle">HYCOM</text>
<text class="b" transform="translate(1002.5 40.9) scale(1 1.01)" text-anchor="middle">OFES</text>
<text class="b" transform="translate(1564.3 40.9) scale(1 1.01)" text-anchor="middle">MRI.COM</text>
<text class="b" transform="translate(2133.5 40.9) scale(1 1.01)" text-anchor="middle">NEMO</text>
<text class="b" transform="translate(44.2 269.4) rotate(-90) scale(1 1.01)" text-anchor="middle">Temperature</text>
<text class="b" transform="translate(42.4 810.9) rotate(-90) scale(1 1.01)" text-anchor="middle">Salinity</text>
<text class="l" transform="translate(122 267.4) rotate(-90) scale(1 0.96)" text-anchor="middle" xml:space="preserve">Depth  [m]</text>
<text class="l" transform="translate(121.7 817) rotate(-90) scale(1 0.96)" text-anchor="middle" xml:space="preserve">Depth  [m]</text>
<g>
<rect x="2400.2" y="65.3" width="40.6" height="67.15" fill="#8B0000"/>
<rect x="2400.2" y="132.15" width="40.6" height="67.15" fill="#FF0000"/>
<rect x="2400.2" y="199" width="40.6" height="67.15" fill="#F0AD0B"/>
<rect x="2400.2" y="265.85" width="40.6" height="67.15" fill="#FFD700"/>
<rect x="2400.2" y="332.7" width="40.6" height="67.15" fill="#00FF00"/>
<rect x="2400.2" y="399.55" width="40.6" height="67.15" fill="#228B22"/>
<rect x="2400.2" y="65.3" width="40.6" height="401.1" fill="none" stroke="#2b2b2b" stroke-width="1.6"/>
<text class="c" transform="translate(2453.4 76.6) scale(1 1.04)">&gt;=3</text>
<text class="c" transform="translate(2453.4 143.45) scale(1 1.04)">2.5</text>
<text class="c" transform="translate(2453.4 210.3) scale(1 1.04)">2</text>
<text class="c" transform="translate(2453.4 277.15) scale(1 1.04)">1.5</text>
<text class="c" transform="translate(2453.4 344) scale(1 1.04)">1</text>
<text class="c" transform="translate(2453.4 410.85) scale(1 1.04)">0.5</text>
<text class="c" transform="translate(2453.4 477.7) scale(1 1.04)">0</text>
</g>
<g>
<rect x="2400.2" y="616.4" width="40.6" height="67.13" fill="#8B0000"/>
<rect x="2400.2" y="683.23" width="40.6" height="67.13" fill="#FF0000"/>
<rect x="2400.2" y="750.07" width="40.6" height="67.13" fill="#F0AD0B"/>
<rect x="2400.2" y="816.9" width="40.6" height="67.13" fill="#FFD700"/>
<rect x="2400.2" y="883.73" width="40.6" height="67.13" fill="#00FF00"/>
<rect x="2400.2" y="950.57" width="40.6" height="67.13" fill="#228B22"/>
<rect x="2400.2" y="616.4" width="40.6" height="401" fill="none" stroke="#2b2b2b" stroke-width="1.6"/>
<text class="c" transform="translate(2453.4 628) scale(1 1.04)">&gt;=3</text>
<text class="c" transform="translate(2453.4 694.83) scale(1 1.04)">2.5</text>
<text class="c" transform="translate(2453.4 761.67) scale(1 1.04)">2</text>
<text class="c" transform="translate(2453.4 828.5) scale(1 1.04)">1.5</text>
<text class="c" transform="translate(2453.4 895.33) scale(1 1.04)">1</text>
<text class="c" transform="translate(2453.4 962.17) scale(1 1.04)">0.5</text>
<text class="c" transform="translate(2453.4 1029) scale(1 1.04)">0</text>
</g>
</svg></body></html>
